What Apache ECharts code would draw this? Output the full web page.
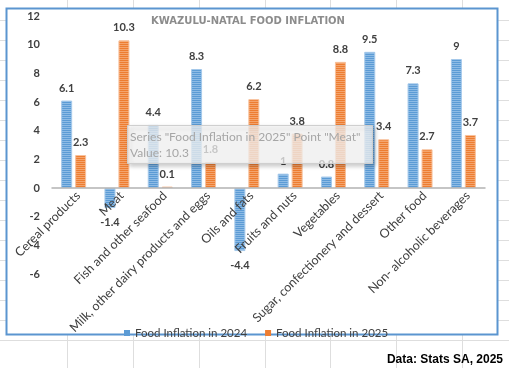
<!DOCTYPE html>
<html>
<head>
<meta charset="utf-8">
<script src="https://cdn.jsdelivr.net/npm/echarts@6/dist/echarts.min.js"></script>
<style>
html,body{margin:0;padding:0;background:#fff;}
#chart{width:509px;height:368px;}
</style>
</head>
<body>
<div id="chart"></div>
<script>
const categories = ["Cereal products","Meat","Fish and other seafood","Milk, other dairy products and eggs","Oils and fats","Fruits and nuts","Vegetables","Sugar, confectionery and dessert","Other food","Non- alcoholic beverages"];
const seriesNames = ["Food Inflation in 2024","Food Inflation in 2025"];
const inflation2024 = [6.1, -1.4, 4.4, 8.3, -4.4, 1, 0.8, 9.5, 7.3, 9];
const inflation2025 = [2.3, 10.3, 0.1, 1.8, 6.2, 3.8, 8.8, 3.4, 2.7, 3.7];
const yTicks = {min: -6, max: 12, interval: 2};
const titleText = "KWAZULU-NATAL FOOD INFLATION";
const sourceText = "Data: Stats SA, 2025";
const tooltipIndex = 1;

function pattern(c1, c2){
  const cv = document.createElement('canvas');
  cv.width = 4; cv.height = 2;
  const ctx = cv.getContext('2d');
  ctx.fillStyle = c1; ctx.fillRect(0,0,4,1);
  ctx.fillStyle = c2; ctx.fillRect(0,1,4,1);
  return {image: cv, repeat: 'repeat'};
}
const blueFill = pattern('#5b9bd5', '#8dbbe5');
const orangeFill = pattern('#ed7d31', '#f4a46d');

const labelStyle = {show: true, position: 'top', distance: 7, fontFamily: 'Lato', fontWeight: 'bold', fontSize: 11, color: '#404040'};
function toData(arr){
  return arr.map(v => v < 0 ? {value: v, label: {position: 'bottom', distance: 9}} : v);
}

// plot geometry
const gridTop = 16, gridBottom = 94;
const plotH = 368 - gridTop - gridBottom;
const zeroOffset = -plotH * (0 - yTicks.min) / (yTicks.max - yTicks.min);

// spreadsheet background grid
const sheet = [];
[67,133,199,265,330,396,462].forEach(x => sheet.push({type:'line', z:-20, silent:true, shape:{x1:x+0.5,y1:0,x2:x+0.5,y2:368}, style:{stroke:'#dedede', lineWidth:1}}));
for (let y = 20; y <= 340; y += 20) sheet.push({type:'line', z:-20, silent:true, shape:{x1:0,y1:y+0.5,x2:509,y2:y+0.5}, style:{stroke:'#dedede', lineWidth:1}});
sheet.push({type:'rect', z:-10, silent:true, shape:{x:6.5,y:8.5,width:491,height:326}, style:{fill:'#fff', stroke:'#5b95d0', lineWidth:2}});

const chart = echarts.init(document.getElementById('chart'), null, {renderer:'canvas'});
chart.setOption({
  animation: false,
  backgroundColor: '#fff',
  title: {
    text: titleText, left: 146, top: 11,
    textStyle: {fontFamily: 'DejaVu Sans', fontWeight: 'bold', fontSize: 10, color: '#8c8c8c'}
  },
  legend: {
    data: [
      {name: seriesNames[0], itemStyle: {color: '#5b9bd5', borderWidth: 0}},
      {name: seriesNames[1], itemStyle: {color: '#ed7d31', borderWidth: 0}}
    ],
    left: 119, top: 322, icon: 'rect', itemWidth: 6, itemHeight: 6, itemGap: 18,
    textStyle: {fontFamily: 'Lato', fontSize: 11.5, color: '#404040'}
  },
  grid: {left: 52, right: 24, top: gridTop, bottom: gridBottom, containLabel: false, outerBoundsMode: 'none'},
  xAxis: {
    type: 'category', data: categories, offset: zeroOffset, z: 5,
    axisLine: {show: true, onZero: false, lineStyle: {color: '#b3b3b3', width: 1.5}},
    axisTick: {show: false},
    axisLabel: {interval: 0, rotate: 45, margin: 1, verticalAlign: 'top', fontFamily: 'Lato', fontSize: 12.5, color: '#404040'},
    splitLine: {show: false}
  },
  yAxis: {
    type: 'value', min: yTicks.min, max: yTicks.max, interval: yTicks.interval,
    axisLine: {show: false}, axisTick: {show: false}, splitLine: {show: false},
    axisLabel: {margin: 12, fontFamily: 'Lato', fontWeight: 'bold', fontSize: 11, color: '#404040'}
  },
  series: [
    {name: seriesNames[0], type: 'bar', data: toData(inflation2024), barWidth: 11, barGap: '27%',
     itemStyle: {color: blueFill, borderColor: '#a4c8ea', borderWidth: 1}, label: labelStyle},
    {name: seriesNames[1], type: 'bar', data: toData(inflation2025), barWidth: 11, barGap: '27%',
     itemStyle: {color: orangeFill, borderColor: '#f7c19c', borderWidth: 1}, label: labelStyle}
  ],
  graphic: sheet.concat([
    {type: 'rect', z: 100, silent: true, shape: {x: 127.5, y: 125.5, width: 245, height: 38},
     style: {fill: 'rgba(255,255,255,0.72)', stroke: '#cfcfcf', lineWidth: 1, shadowBlur: 4, shadowColor: 'rgba(0,0,0,0.25)', shadowOffsetX: 2, shadowOffsetY: 2}},
    {type: 'text', z: 101, silent: true, x: 130, y: 129,
     style: {text: 'Series "' + seriesNames[1] + '" Point "' + categories[tooltipIndex] + '"\nValue: ' + inflation2025[tooltipIndex],
             font: '12px Lato', fill: '#a6a6a6', lineHeight: 16}},
    {type: 'text', x: 503, y: 354, z: 50,
     style: {text: sourceText, font: 'bold 12px "Liberation Sans"', fill: '#000', textAlign: 'right'}}
  ])
});
</script>
</body>
</html>
